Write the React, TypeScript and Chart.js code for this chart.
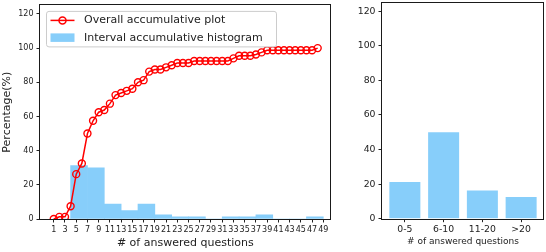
import React, { useEffect, useRef } from "react";
import { Chart, registerables } from "chart.js";

Chart.register(...registerables);

// ---------- data ----------
const lineX = [1, 2, 3, 4, 5, 6, 7, 8, 9, 10, 11, 12, 13, 14, 15, 16, 17, 18, 19, 20, 21, 22, 23, 24, 25, 26, 27, 28, 29, 30, 31, 32, 33, 34, 35, 36, 37, 38, 39, 40, 41, 42, 43, 44, 45, 46, 47, 48];
const lineY = [0, 1.25, 1.25, 7.5, 26.25, 32.5, 50, 57.5, 62.5, 63.75, 67.5, 72.5, 73.75, 75, 76.25, 80, 81.25, 86.25, 87.5, 87.5, 88.75, 90, 91.25, 91.25, 91.25, 92.5, 92.5, 92.5, 92.5, 92.5, 92.5, 92.5, 94, 95.5, 95.5, 95.5, 96.25, 97.5, 98.75, 98.75, 98.75, 98.75, 98.75, 98.75, 98.75, 98.75, 98.75, 100];

const binCenters = [2.5, 5.5, 8.5, 11.5, 14.5, 17.5, 20.5, 23.5, 26.5, 29.5, 32.5, 35.5, 38.5, 41.5, 44.5, 47.5];
const binValues = [0, 31.25, 30, 8.75, 5, 8.75, 2.5, 1.25, 1.25, 0, 1.25, 1.25, 2.5, 0, 0, 1.25];

const leftXTicks = [1, 3, 5, 7, 9, 11, 13, 15, 17, 19, 21, 23, 25, 27, 29, 31, 33, 35, 37, 39, 41, 43, 45, 47, 49];
const yTicks = [0, 20, 40, 60, 80, 100, 120];

const groupLabels = ["0-5", "6-10", "11-20", ">20"];
const groupPositions = [0, 1, 2, 3];
const groupValues = [21.25, 50, 16.25, 12.5];

// ---------- styles ----------
const FONT = "'DejaVu Sans', sans-serif";
const TEXT = "#222222";
const BAR = "#87CEFA";

const boxPlugin = {
  id: "box",
  afterDraw(chart: any) {
    const { ctx, chartArea } = chart;
    const l = Math.round(chartArea.left) - 0.5;
    const t = Math.round(chartArea.top) - 0.5;
    const r = Math.round(chartArea.right) - 0.5;
    const b = Math.round(chartArea.bottom) + 0.5;
    ctx.save();
    ctx.strokeStyle = "#1a1a1a";
    ctx.lineWidth = 1;
    ctx.strokeRect(l, t, r - l, b - t);
    ctx.restore();
  },
};

const legendPlugin = {
  id: "innerLegend",
  afterDatasetsDraw(chart: any) {
    const { ctx, chartArea } = chart;
    const x0 = chartArea.left + 6.5;
    const y0 = chartArea.top + 6;
    const w = 230;
    const h = 35.5;
    ctx.save();
    ctx.fillStyle = "rgba(255,255,255,0.85)";
    ctx.strokeStyle = "#cccccc";
    ctx.lineWidth = 1;
    ctx.beginPath();
    const rr = 2.5;
    ctx.moveTo(x0 + rr, y0);
    ctx.lineTo(x0 + w - rr, y0);
    ctx.quadraticCurveTo(x0 + w, y0, x0 + w, y0 + rr);
    ctx.lineTo(x0 + w, y0 + h - rr);
    ctx.quadraticCurveTo(x0 + w, y0 + h, x0 + w - rr, y0 + h);
    ctx.lineTo(x0 + rr, y0 + h);
    ctx.quadraticCurveTo(x0, y0 + h, x0, y0 + h - rr);
    ctx.lineTo(x0, y0 + rr);
    ctx.quadraticCurveTo(x0, y0, x0 + rr, y0);
    ctx.closePath();
    ctx.fill();
    ctx.stroke();

    const ds0 = chart.data.datasets[0];
    const ds1 = chart.data.datasets[1];
    const ly = y0 + 9;
    ctx.strokeStyle = "#ff0000";
    ctx.lineWidth = 1.5;
    ctx.beginPath();
    ctx.moveTo(x0 + 4, ly);
    ctx.lineTo(x0 + 28, ly);
    ctx.stroke();
    ctx.beginPath();
    ctx.arc(x0 + 16, ly, 3.5, 0, Math.PI * 2);
    ctx.stroke();
    ctx.fillStyle = BAR;
    ctx.fillRect(x0 + 4, y0 + 22, 24, 8.5);

    ctx.fillStyle = TEXT;
    ctx.font = `11px ${FONT}`;
    ctx.textBaseline = "middle";
    ctx.textAlign = "left";
    ctx.fillText(ds0.label, x0 + 37.5, ly);
    ctx.fillText(ds1.label, x0 + 37.5, y0 + 26.5);
    ctx.restore();
  },
};

function tickGrid() {
  return {
    display: true,
    drawOnChartArea: false,
    drawTicks: true,
    tickLength: 3.5,
    offset: false,
    color: TEXT,
    lineWidth: 1,
  };
}

function leftConfig(): any {
  return {
    type: "bar",
    data: {
      datasets: [
        {
          type: "line",
          label: "Overall accumulative plot",
          data: lineX.map((x, i) => ({ x, y: lineY[i] })),
          borderColor: "#ff0000",
          borderWidth: 1.5,
          pointRadius: 3.5,
          pointBorderWidth: 1.4,
          pointBorderColor: "#ff0000",
          pointBackgroundColor: "rgba(255,255,255,0)",
          tension: 0,
          order: 0,
        },
        {
          type: "bar",
          label: "Interval accumulative histogram",
          data: binCenters.map((x, i) => ({ x, y: binValues[i] })),
          backgroundColor: BAR,
          borderWidth: 0,
          barThickness: "flex",
          barPercentage: 1,
          categoryPercentage: 1,
          order: 1,
        },
      ],
    },
    options: {
      responsive: false,
      animation: false,
      events: [],
      layout: { padding: { top: 4, right: 3, left: 0, bottom: 0 } },
      plugins: { legend: { display: false }, tooltip: { enabled: false } },
      scales: {
        x: {
          type: "linear",
          position: "bottom",
          offset: false,
          min: -1.45,
          max: 50.3,
          afterBuildTicks: (s: any) => {
            s.ticks = leftXTicks.map((v) => ({ value: v }));
          },
          ticks: {
            autoSkip: false,
            maxRotation: 0,
            minRotation: 0,
            font: { family: FONT, size: 8 },
            color: TEXT,
            padding: 2.5,
            callback: (v: any) => String(v),
          },
          grid: tickGrid(),
          border: { display: false },
          title: {
            display: true,
            text: "# of answered questions",
            font: { family: FONT, size: 11 },
            color: TEXT,
            padding: { top: 0, bottom: 2 },
          },
          afterFit: (s: any) => {
            s.height = 33;
            s.paddingLeft = 0;
            s.paddingRight = 0;
          },
        },
        y: {
          type: "linear",
          min: 0,
          max: 125,
          afterBuildTicks: (s: any) => {
            s.ticks = yTicks.map((v) => ({ value: v }));
          },
          ticks: {
            font: { family: FONT, size: 8 },
            color: TEXT,
            padding: 3,
          },
          grid: tickGrid(),
          border: { display: false },
          title: {
            display: true,
            text: "Percentage(%)",
            font: { family: FONT, size: 11 },
            color: TEXT,
            padding: { top: 1, bottom: 0 },
          },
          afterFit: (s: any) => {
            s.width = 40;
            s.paddingTop = 0;
            s.paddingBottom = 0;
          },
        },
      },
    },
    plugins: [boxPlugin, legendPlugin],
  };
}

function rightConfig(): any {
  return {
    type: "bar",
    data: {
      datasets: [
        {
          label: "share",
          data: groupPositions.map((x, i) => ({ x, y: groupValues[i] })),
          backgroundColor: BAR,
          borderWidth: 0,
          barPercentage: 0.8,
          categoryPercentage: 1,
        },
      ],
    },
    options: {
      responsive: false,
      animation: false,
      events: [],
      layout: { padding: { top: 2.5, right: 2, left: 0, bottom: 0 } },
      plugins: { legend: { display: false }, tooltip: { enabled: false } },
      scales: {
        x: {
          type: "linear",
          offset: false,
          min: -0.59,
          max: 3.59,
          afterBuildTicks: (s: any) => {
            s.ticks = groupPositions.map((v) => ({ value: v }));
          },
          ticks: {
            autoSkip: false,
            maxRotation: 0,
            minRotation: 0,
            font: { family: FONT, size: 9.3 },
            color: TEXT,
            padding: 2,
            callback: (v: any) => groupLabels[Math.round(Number(v))] ?? "",
          },
          grid: tickGrid(),
          border: { display: false },
          title: {
            display: true,
            text: "# of answered questions",
            font: { family: FONT, size: 9 },
            color: TEXT,
            padding: { top: 0, bottom: 4.5 },
          },
          afterFit: (s: any) => {
            s.height = 33.3;
            s.paddingLeft = 0;
            s.paddingRight = 0;
          },
        },
        y: {
          type: "linear",
          min: 0,
          max: 125,
          afterBuildTicks: (s: any) => {
            s.ticks = yTicks.map((v) => ({ value: v }));
          },
          ticks: {
            font: { family: FONT, size: 9.3 },
            color: TEXT,
            padding: 3,
          },
          grid: tickGrid(),
          border: { display: false },
          afterFit: (s: any) => {
            s.width = 42;
            s.paddingTop = 0;
            s.paddingBottom = 0;
          },
        },
      },
    },
    plugins: [boxPlugin],
  };
}

function ChartCanvas(props: { width: number; height: number; left: number; build: () => any }) {
  const ref = useRef<HTMLCanvasElement | null>(null);
  useEffect(() => {
    if (!ref.current) return;
    const chart = new Chart(ref.current, props.build());
    return () => chart.destroy();
  }, []);
  return (
    <canvas
      ref={ref}
      width={props.width}
      height={props.height}
      style={{ position: "absolute", left: props.left, top: 0, width: props.width, height: props.height }}
    />
  );
}

export default function App() {
  return (
    <div style={{ position: "fixed", left: 0, top: 0, width: 546, height: 252, background: "#ffffff", overflow: "hidden" }}>
      <ChartCanvas width={336} height={252} left={0} build={leftConfig} />
      <ChartCanvas width={206} height={252} left={340} build={rightConfig} />
    </div>
  );
}
